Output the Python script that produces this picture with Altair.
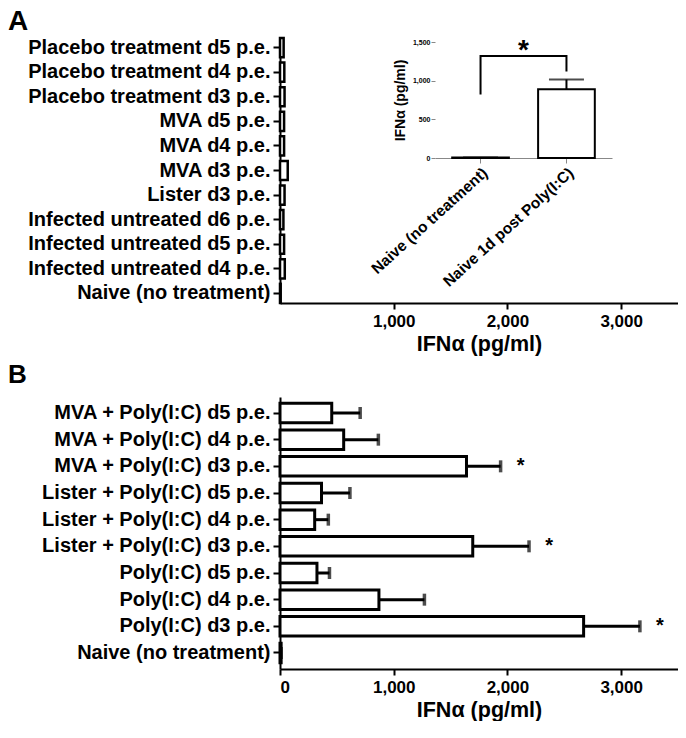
import altair as alt
import pandas as pd

FONT = "Liberation Sans"

# ---------------- Panel A data ----------------
a_cats = [
    "Placebo treatment d5 p.e.", "Placebo treatment d4 p.e.", "Placebo treatment d3 p.e.",
    "MVA d5 p.e.", "MVA d4 p.e.", "MVA d3 p.e.", "Lister d3 p.e.",
    "Infected untreated d6 p.e.", "Infected untreated d5 p.e.", "Infected untreated d4 p.e.",
    "Naive (no treatment)",
]
a_vals = [32, 38, 40, 36, 36, 68, 40, 30, 36, 42, 6]

# inset
inset_cats = ["Naive (no treatment)", "Naive 1d post Poly(I:C)"]
inset_vals = [8, 890]
inset_err = [8, 1015]
bracket_cat = ["Naive (no treatment)", "Naive (no treatment)", "Naive 1d post Poly(I:C)", "Naive 1d post Poly(I:C)"]
bracket_y = [820, 1320, 1320, 1120]
bracket_order = [0, 1, 2, 3]
inset_star_y = [1390]

# ---------------- Panel B data ----------------
b_cats = [
    "MVA + Poly(I:C) d5 p.e.", "MVA + Poly(I:C) d4 p.e.", "MVA + Poly(I:C) d3 p.e.",
    "Lister + Poly(I:C) d5 p.e.", "Lister + Poly(I:C) d4 p.e.", "Lister + Poly(I:C) d3 p.e.",
    "Poly(I:C) d5 p.e.", "Poly(I:C) d4 p.e.", "Poly(I:C) d3 p.e.",
    "Naive (no treatment)",
]
b_vals = [455, 560, 1640, 365, 305, 1695, 325, 870, 2670, 10]
b_err = [705, 865, 1940, 615, 425, 2190, 435, 1270, 3165, 10]
b_star = ["", "", "*", "", "", "*", "", "", "*", ""]

panel_letters = ["A", "B"]

W = 398
HA = 265
HB = 272


def main_y(cats, pin, pout):
    return alt.Y(
        "cat:N", sort=cats,
        scale=alt.Scale(paddingInner=pin, paddingOuter=pout),
        axis=alt.Axis(
            title=None, labelFont=FONT, labelFontSize=20, labelFontWeight="bold",
            labelColor="black", labelLimit=400, labelPadding=3,
            tickSize=7, tickWidth=2, tickColor="black",
            domainColor="black", domainWidth=2,
        ),
    )


def main_x(values, field="val"):
    return alt.X(
        f"{field}:Q",
        scale=alt.Scale(domain=[0, 3500], nice=False),
        axis=alt.Axis(
            values=values, format=",.0f", grid=False,
            title="IFNα  (pg/ml)", titleFont=FONT, titleFontSize=21.5, titleFontWeight="bold",
            titleColor="black", titlePadding=4,
            labelFont=FONT, labelFontSize=17, labelFontWeight="bold", labelColor="black",
            labelPadding=4, tickSize=6, tickWidth=2, tickColor="black",
            domainColor="black", domainWidth=2,
        ),
    )


def letter(i, yoff, size):
    d = pd.DataFrame({"t": [panel_letters[i]]})
    return alt.Chart(d).mark_text(
        font=FONT, fontSize=size, fontWeight="bold", color="black",
        align="left", baseline="top",
    ).encode(x=alt.value(-272), y=alt.value(yoff), text="t:N")


# ---------- Panel A ----------
dfA = pd.DataFrame({"cat": a_cats, "val": a_vals})
barsA = alt.Chart(dfA).mark_bar(fill="white", stroke="black", strokeWidth=2.5).encode(
    x=main_x([1000, 2000, 3000]), y=main_y(a_cats, 0.22, 0.0)
)


def inset_x():
    return alt.X(
        "icat:N", sort=inset_cats,
        scale=alt.Scale(range=[155, 332], paddingInner=0.34, paddingOuter=0.2),
        axis=alt.Axis(
            orient="bottom", offset=-145, title=None,
            labelAngle=-42, labelFont=FONT, labelFontSize=15.5, labelFontWeight="bold",
            labelColor="black", labelLimit=300, labelPadding=2,
            tickSize=5, tickColor="#888888", tickWidth=1,
            domainColor="#888888", domainWidth=1,
        ),
    )


def inset_y(field):
    return alt.Y(
        f"{field}:Q",
        scale=alt.Scale(domain=[0, 1500], range=[120, 4], nice=False),
        axis=alt.Axis(
            orient="left", offset=-155, values=[0, 500, 1000, 1500], format=",.0f",
            grid=False, domain=False,
            title="IFNα (pg/ml)", titleFont=FONT, titleFontSize=14, titleFontWeight="bold",
            titleColor="black", titlePadding=5,
            labelFont=FONT, labelFontSize=7, labelFontWeight="bold", labelColor="black",
            labelPadding=1, tickSize=4, tickColor="#888888", tickWidth=1,
        ),
    )


dfI = pd.DataFrame({"icat": inset_cats, "ival": inset_vals, "ierr": inset_err})
dfBr = pd.DataFrame({"icat": bracket_cat, "ival": bracket_y, "ord": bracket_order})
dfSt = pd.DataFrame({"icat": [inset_cats[0]], "ival": inset_star_y, "t": ["*"]})

ibars = alt.Chart(dfI).mark_bar(fill="white", stroke="black", strokeWidth=2).encode(
    x=inset_x(), y=inset_y("ival")
)
ierr = alt.Chart(dfI).mark_rule(color="black", strokeWidth=2).encode(
    x=inset_x(), y=inset_y("ival"), y2="ierr:Q"
)
icap = alt.Chart(dfI).mark_tick(color="black", size=35, thickness=2).encode(
    x=inset_x(), y=inset_y("ierr")
)
ibr = alt.Chart(dfBr).mark_line(color="black", strokeWidth=2).encode(
    x=inset_x(), y=inset_y("ival"), order="ord:Q"
)
istar = alt.Chart(dfSt).mark_text(
    font=FONT, fontSize=28, fontWeight="bold", color="black", dx=43, baseline="middle"
).encode(x=inset_x(), y=inset_y("ival"), text="t:N")

inset = alt.layer(ibars, ierr, icap, ibr, istar)

panelA = alt.layer(barsA, inset, letter(0, -30, 28)).resolve_scale(
    x="independent", y="independent"
).properties(width=W, height=HA)

# ---------- Panel B ----------
dfB = pd.DataFrame({"cat": b_cats, "val": b_vals, "err": b_err, "star": b_star})
yb = main_y(b_cats, 0.27, 0.235)
barsB = alt.Chart(dfB).mark_bar(fill="white", stroke="black", strokeWidth=3).encode(
    x=main_x([0, 1000, 2000, 3000]), y=yb
)
errB = alt.Chart(dfB).mark_rule(color="black", strokeWidth=3).encode(
    x=main_x([0, 1000, 2000, 3000]), x2="err:Q", y=yb
)
capB = alt.Chart(dfB).mark_tick(color="black", size=12, thickness=3.5).encode(
    x=main_x([0, 1000, 2000, 3000], "err"), y=yb
)
starB = alt.Chart(dfB).mark_text(
    font=FONT, fontSize=20, fontWeight="bold", color="black", dx=20, baseline="middle"
).encode(x=main_x([0, 1000, 2000, 3000], "err"), y=yb, text="star:N")

panelB = alt.layer(barsB, errB, capB, starB, letter(1, -35, 26)).properties(
    width=W, height=HB,
)

chart = alt.vconcat(panelA, panelB, spacing=7).properties(
    padding=0, background="white"
).configure_view(stroke=None)

chart.save("out.html", embed_options={"renderer": "svg", "actions": False})
